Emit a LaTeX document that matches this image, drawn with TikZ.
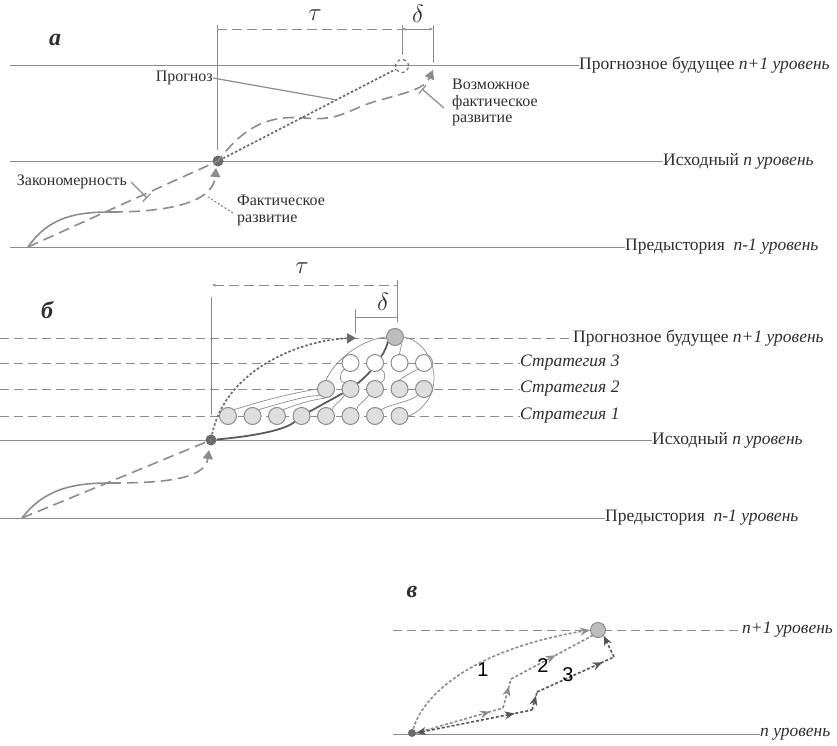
\documentclass[tikz,border=0pt]{standalone}
\usepackage{fontspec}
\setmainfont{Liberation Serif}
\newfontfamily\digfont{Liberation Sans}
\usetikzlibrary{arrows.meta,decorations.markings}
\definecolor{lineG}{gray}{0.55}
\definecolor{dotG}{gray}{0.42}
\definecolor{nodeF}{gray}{0.87}
\definecolor{topF}{gray}{0.74}
\definecolor{txtC}{gray}{0.18}

\tikzset{
  lvl/.style={draw=lineG, line width=0.9pt},
  lvldash/.style={lvl, dash pattern=on 9pt off 5pt},
  lbl/.style={anchor=west, inner sep=0pt, font=\fontsize{17.5}{18}\selectfont, text=txtC},
  note/.style={inner sep=0pt, font=\fontsize{16}{16.5}\selectfont, text=txtC, align=left},
  tag/.style={inner sep=0pt, font=\fontsize{24}{24}\selectfont\bfseries\itshape, text=txtC},
  dimlab/.style={inner sep=0pt, font=\fontsize{24}{24}\selectfont, text=txtC},
  dev/.style={draw=lineG, line width=1.6pt, dash pattern=on 11pt off 6pt},
  law/.style={draw=lineG, line width=1.6pt},
  fcst/.style={draw=dotG, line width=1.7pt, dash pattern=on 2.5pt off 2pt},
  tri/.style={-{Triangle[length=9pt,width=10pt]}},
  leader/.style={draw=lineG, line width=1.2pt, -{Bar[width=11pt]}},
  dimline/.style={draw=lineG, line width=0.9pt, dash pattern=on 10pt off 5pt},
  dot/.style={circle, fill=dotG, minimum size=11pt, inner sep=0pt},
  state/.style={circle, draw=lineG, line width=1pt, fill=nodeF, minimum size=17pt, inner sep=0pt},
  path2/.style={draw=lineG, line width=1.6pt, dash pattern=on 3pt off 2pt},
  path3/.style={draw=dotG!80!black, line width=1.6pt, dash pattern=on 3pt off 2pt},
  midarr/.style={postaction={decorate, decoration={markings, mark=at position #1 with {\arrow{Stealth[length=10pt,width=8pt]}}}}}
}

\begin{document}
\begin{tikzpicture}[x=1pt, y=-1pt]
    \useasboundingbox (0,0) rectangle (837,746);

    % ---------------- a ----------------
    \node[tag] (taga) at (55,40) {а};

    % draw levels
    \node[lbl] (futA) at (579,65) {Прогнозное будущее \textit{n+1 уровень}};
    \node[lbl] (curA) at (663,161) {Исходный \textit{n уровень}};
    \node[lbl] (preA) at (625,247) {Предыстория \ \textit{n-1 уровень}};
    \draw[lvl] (10,65) -- (futA.west);
    \draw[lvl] (10,161) -- (curA.west);
    \draw[lvl] (10,247) -- (preA.west);

    % draw points
    \node[dot] (nowA) at (218,161) {};
    \node[circle, draw=dotG, line width=1.2pt, dashed, minimum size=13pt, inner sep=0pt] (goalA) at (402,66) {};
    \coordinate (startA) at (28,247);

    % draw tau and delta
    \draw[lineG, line width=0.9pt] (217,25) -- (217,150);
    \draw[lineG, line width=0.9pt] (402,25) -- (402,55);
    \draw[lineG, line width=0.9pt] (433,25) -- (433,63);
    \draw[dimline] (217,29) -- (402,29);
    \draw[lineG, line width=0.8pt, {Stealth[length=4pt]}-{Stealth[length=4pt]}] (402,29) -- (433,29);
    \node[dimlab] (tauA) at (315,15) {$\tau$};
    \node[dimlab] (delA) at (418,14) {$\delta$};

    % draw curves
    \draw[law] (startA) .. controls (50,215) and (80,212) .. (112,212);
    \draw[dev, tri] (112,212) .. controls (160,212) and (213,205) .. (216,168);
    \draw[dev, tri] (startA) -- (nowA.center) .. controls (245,125) and (270,115) .. (305,118)
        .. controls (340,122) and (350,108) .. (380,100) .. controls (410,92) and (425,88) .. (433,70);
    \draw[fcst] (nowA) -- (goalA);

    % draw notes
    \node[note, anchor=east] (progA) at (213,78) {Прогноз};
    \coordinate (progEnd) at (337,100);
    \draw[lineG, line width=1.2pt] (progA.east) -- (progEnd);
    \node[note, anchor=east] (lawA) at (127,182) {Закономерность};
    \draw[leader] (lawA.east) ++(4,0) -- (147,198);
    \node[note, anchor=north west] (factA) at (237,195) {Фактическое\\развитие};
    \draw[lineG, line width=1.2pt, dash pattern=on 2pt off 2pt] (233,213) -- (208,197);
    \node[note, anchor=north west] (possA) at (452,79) {Возможное\\фактическое\\развитие};
    \draw[leader] (444,108) -- (422,89);

    % ---------------- б ----------------
    \node[tag] (tagb) at (47,310) {б};

    % draw levels
    \node[lbl] (futB) at (573,338) {Прогнозное будущее \textit{n+1 уровень}};
    \node[lbl] (st3) at (520,363) {\textit{Стратегия 3}};
    \node[lbl] (st2) at (520,389) {\textit{Стратегия 2}};
    \node[lbl] (st1) at (520,416) {\textit{Стратегия 1}};
    \node[lbl] (curB) at (652,440) {Исходный \textit{n уровень}};
    \node[lbl] (preB) at (605,518) {Предыстория \ \textit{n-1 уровень}};
    \draw[lvldash] (0,338) -- (futB.west);
    \draw[lvldash] (0,363) -- (st3.west);
    \draw[lvldash] (0,389) -- (st2.west);
    \draw[lvldash] (0,416) -- (st1.west);
    \draw[lvl] (0,440) -- (curB.west);
    \draw[lvl] (0,518) -- (preB.west);

    % draw tau and delta
    \draw[lineG, line width=0.9pt] (211,297) -- (211,415);
    \draw[lineG, line width=0.9pt] (397,280) -- (397,322);
    \draw[lineG, line width=0.9pt] (355,309) -- (355,333);
    \draw[dimline, {Stealth[length=4pt]}-] (212,285) -- (397,285);
    \draw[lineG, line width=0.9pt] (355,317) -- (397,317);
    \node[dimlab] (tauB) at (302,268) {$\tau$};
    \node[dimlab] (delB) at (383,302) {$\delta$};

    % draw states
    \foreach \i in {1,...,8}
        \node[state] (s1-\i) at (228+24.5*\i-24.5,416) {};
    \foreach \i in {1,...,5}
        \node[state] (s2-\i) at (326+24.5*\i-24.5,389) {};
    \foreach \i in {1,...,4}
        \node[state, fill=white] (s3-\i) at (350.5+24.5*\i-24.5,363) {};
    \node[state, fill=topF] (top) at (395,337) {};
    \node[dot] (nowB) at (211,440) {};
    \coordinate (startB) at (22,518);

    % draw thin links
    \begin{scope}[lineG, line width=0.7pt]
        \draw (s1-1.north east) .. controls (270,398) and (300,392) .. (s2-1.west);
        \draw (s1-2.north east) .. controls (285,402) and (305,396) .. (s2-1.south west);
        \draw (s1-3.north east) .. controls (295,405) and (310,400) .. (s2-1.south);
        \draw (top.west) .. controls (360,340) and (335,360) .. (s2-1.north);
        \draw (top.east) .. controls (428,342) and (440,372) .. (431,394)
            .. controls (426,406) and (415,414) .. (s1-8.east);
        \draw (top.south east) .. controls (402,345) and (400,350) .. (s3-3.north);
        \draw (s3-1.south west) .. controls (338,375) and (340,383) .. (s2-2.north west);
        \draw (s3-2.south east) .. controls (386,372) and (386,380) .. (s2-3.north east);
        \draw (s3-4.south west) .. controls (410,373) and (402,378) .. (s2-4.north);
        \draw (s2-2.south west) .. controls (340,402) and (332,406) .. (s1-5.north east);
        \draw (s2-3.south west) .. controls (364,402) and (356,406) .. (s1-6.north east);
        \draw (s2-5.south west) .. controls (410,402) and (390,404) .. (s1-7.north east);
    \end{scope}

    % draw curves
    \draw[law] (startB) .. controls (45,488) and (75,483) .. (110,483);
    \draw[dev, tri] (110,483) .. controls (160,483) and (205,480) .. (209,450);
    \draw[dev] (startB) -- (nowB.center);
    \draw[fcst, tri] (nowB) .. controls (225,370) and (300,340) .. (356,338);
    \draw[draw=dotG!85!black, line width=1.8pt] (nowB) .. controls (255,436) and (285,430) .. (s1-4)
        -- (s2-2) .. controls (362,380) and (370,372) .. (s3-2) .. controls (385,352) and (388,342) .. (top);

    % ---------------- в ----------------
    \node[tag] (tagc) at (412,592) {в};

    % draw levels
    \node[lbl] (futC) at (742,630) {\textit{n+1 уровень}};
    \node[lbl] (curC) at (760,734) {\textit{n уровень}};
    \draw[lvldash] (393,630) -- (futC.west);
    \draw[lvl] (393,734) -- (curC.west);

    \node[dot, minimum size=8pt] (nowC) at (412,733) {};
    \node[state, fill=topF, minimum size=15pt] (topC) at (598,630) {};

    % draw paths
    \coordinate (p2a) at (503,708);
    \coordinate (p2b) at (511,679);
    \coordinate (p3a) at (532,710);
    \coordinate (p3b) at (537,692);
    \coordinate (p3c) at (614,657);
    \draw[path2, -{Stealth[length=10pt,width=8pt]}] (nowC) .. controls (425,690) and (480,648) .. (topC.west);
    \draw[path2, midarr=0.85] (nowC.east) -- (p2a);
    \draw[path2, midarr=0.75] (p2a) -- (p2b);
    \draw[path2, midarr=0.55] (p2b) -- (topC.south west);
    \draw[path3, {Stealth[length=10pt,width=8pt]}-, midarr=0.85] (nowC.east) -- (p3a);
    \draw[path3, midarr=0.8] (p3a) -- (p3b);
    \draw[path3, midarr=0.85] (p3b) -- (p3c);
    \draw[path3, -{Stealth[length=10pt,width=8pt]}] (p3c) -- (topC.south east);
    \node[inner sep=0pt, font=\digfont\fontsize{20}{20}\selectfont] (n1) at (483,670) {1};
    \node[inner sep=0pt, font=\digfont\fontsize{20}{20}\selectfont] (n2) at (543,666) {2};
    \node[inner sep=0pt, font=\digfont\fontsize{20}{20}\selectfont] (n3) at (568,675) {3};
\end{tikzpicture}
\end{document}
